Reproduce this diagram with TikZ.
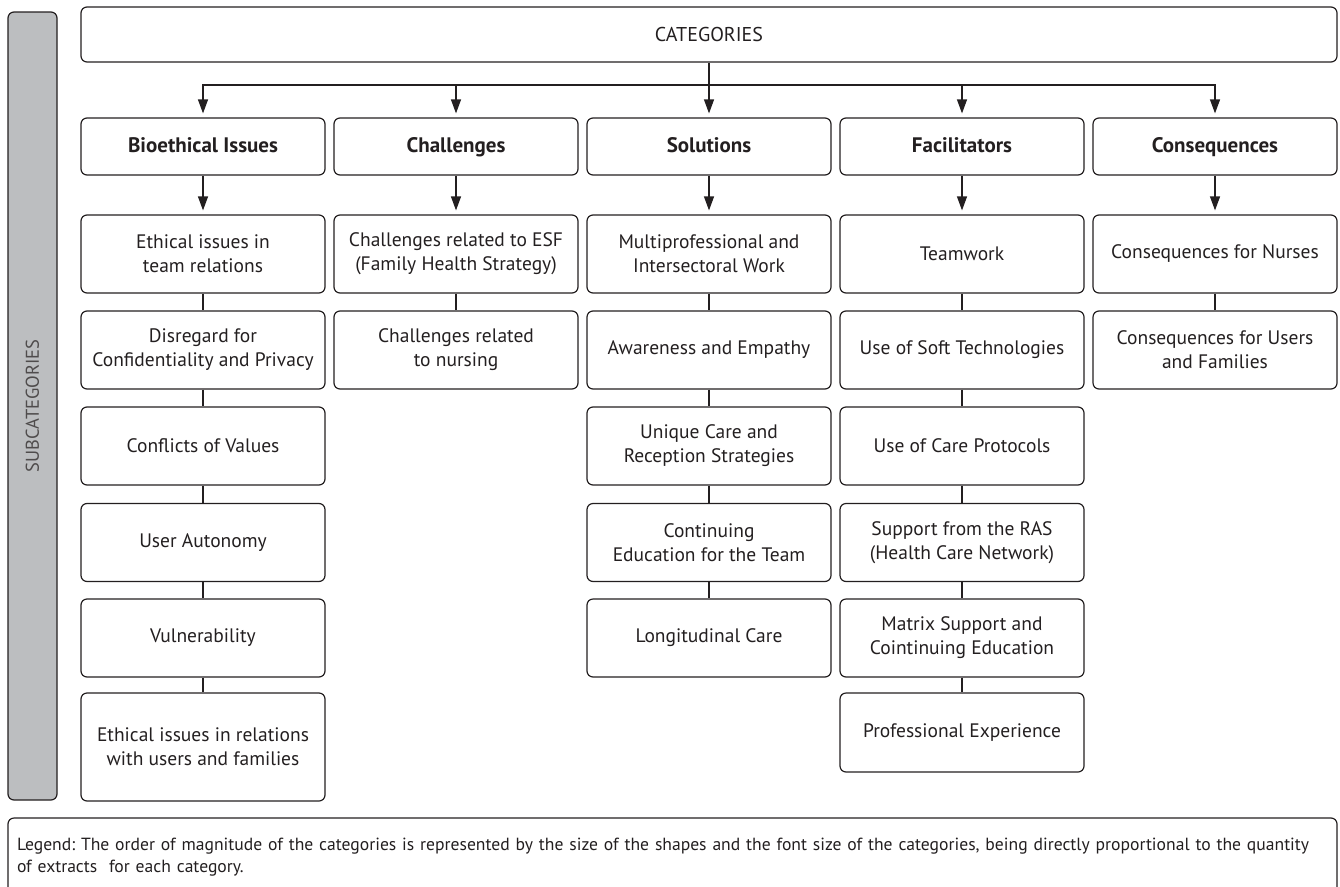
\documentclass[tikz,border=0pt]{standalone}
\usepackage{fontspec}
\setmainfont{PT Sans}
\usetikzlibrary{arrows.meta}
\definecolor{ink}{HTML}{231F20}
\definecolor{sidegray}{HTML}{BCBEC0}
\frenchspacing
\begin{document}
\begin{tikzpicture}[x=1pt,y=-1pt,
  box/.style={draw=ink, line width=1.2pt, rounded corners=6pt, align=center, text=ink,
    font=\fontsize{19.5}{24}\selectfont, minimum width=244pt, inner sep=0pt},
  catbox/.style={box, minimum height=57pt, font=\fontsize{21}{24}\selectfont\bfseries,
    text height=15pt, text depth=4pt},
  subbox/.style={box, minimum height=78pt},
  arr/.style={draw=ink, line width=1.2pt, -{Triangle[length=14pt,width=10pt]}, shorten >=4pt},
  link/.style={draw=ink, line width=1.2pt}]
\useasboundingbox (0,0) rectangle (1340,886);

% sidebar
\node[draw=ink, fill=sidegray, line width=1.2pt, rounded corners=6pt, rotate=90,
  minimum width=788pt, minimum height=49pt, inner sep=0pt,
  font=\fontsize{18.5}{20}\selectfont, text=ink!80] (side) at (32.5,406) {SUBCATEGORIES};

% top
\node[box, minimum width=1256pt, minimum height=55pt, font=\fontsize{20}{22}\selectfont] (top) at (709,34.5) {CATEGORIES};
\coordinate (hub) at (709,85);

% categories
\node[catbox] (bio) at (203,146.5) {Bioethical Issues};
\node[catbox] (cha) at (456,146.5) {Challenges};
\node[catbox] (sol) at (709,146.5) {Solutions};
\node[catbox] (fac) at (962,146.5) {Facilitators};
\node[catbox] (con) at (1215,146.5) {Consequences};

\draw[link] (top.south) -- (hub);
\draw[arr] (hub) -| (bio.north);
\draw[arr] (hub) -| (cha.north);
\draw[arr] (hub) -- (sol.north);
\draw[arr] (hub) -| (fac.north);
\draw[arr] (hub) -| (con.north);

% Bioethical column
\node[subbox] (b1) at (203,254) {Ethical issues in\\team relations};
\node[subbox] (b2) at (203,350) {Disregard for\\Confidentiality and Privacy};
\node[subbox] (b3) at (203,446) {Conflicts of Values};
\node[subbox] (b4) at (203,542.5) {User Autonomy};
\node[subbox] (b5) at (203,638) {Vulnerability};
\node[subbox, minimum height=108pt] (b6) at (203,747) {Ethical issues in relations\\with users and families};

% Challenges column
\node[subbox] (c1) at (456,254) {Challenges related to ESF\\(Family Health Strategy)};
\node[subbox] (c2) at (456,350) {Challenges related\\to nursing};

% Solutions column
\node[subbox] (s1) at (709,254) {Multiprofessional and\\Intersectoral Work};
\node[subbox] (s2) at (709,350) {Awareness and Empathy};
\node[subbox] (s3) at (709,446) {Unique Care and\\Reception Strategies};
\node[subbox] (s4) at (709,542.5) {Continuing\\Education for the Team};
\node[subbox] (s5) at (709,638) {Longitudinal Care};

% Facilitators column
\node[subbox] (f1) at (962,254) {Teamwork};
\node[subbox] (f2) at (962,350) {Use of Soft Technologies};
\node[subbox] (f3) at (962,446) {Use of Care Protocols};
\node[subbox] (f4) at (962,542.5) {Support from the RAS\\(Health Care Network)};
\node[subbox] (f5) at (962,638) {Matrix Support and\\Cointinuing Education};
\node[subbox, minimum height=79pt] (f6) at (962,732.5) {Professional Experience};

% Consequences column
\node[subbox] (k1) at (1215,254) {Consequences for Nurses};
\node[subbox] (k2) at (1215,350) {Consequences for Users\\and Families};

% arrows category -> first sub
\draw[arr] (bio.south) -- (b1.north);
\draw[arr] (cha.south) -- (c1.north);
\draw[arr] (sol.south) -- (s1.north);
\draw[arr] (fac.south) -- (f1.north);
\draw[arr] (con.south) -- (k1.north);

% links
\draw[link] (b1.south) -- (b2.north);
\draw[link] (b2.south) -- (b3.north);
\draw[link] (b3.south) -- (b4.north);
\draw[link] (b4.south) -- (b5.north);
\draw[link] (b5.south) -- (b6.north);
\draw[link] (c1.south) -- (c2.north);
\draw[link] (s1.south) -- (s2.north);
\draw[link] (s2.south) -- (s3.north);
\draw[link] (s3.south) -- (s4.north);
\draw[link] (s4.south) -- (s5.north);
\draw[link] (f1.south) -- (f2.north);
\draw[link] (f2.south) -- (f3.north);
\draw[link] (f3.south) -- (f4.north);
\draw[link] (f4.south) -- (f5.north);
\draw[link] (f5.south) -- (f6.north);
\draw[link] (k1.south) -- (k2.north);

% legend (its lower edge runs past the bottom of the picture)
\node[draw=ink, line width=1.2pt, rounded corners=6pt, minimum width=1329pt, minimum height=78pt,
  text width=1311pt, align=left, inner xsep=9pt, inner ysep=0pt, text=ink,
  font=\fontsize{17.6}{22}\selectfont] (legend) at (672.5,857)
  {Legend: The order of magnitude of the categories is represented by the size of the shapes and the font size of the categories, being directly proportional to the quantity\\of extracts\ \ for each category.};
\end{tikzpicture}
\end{document}
